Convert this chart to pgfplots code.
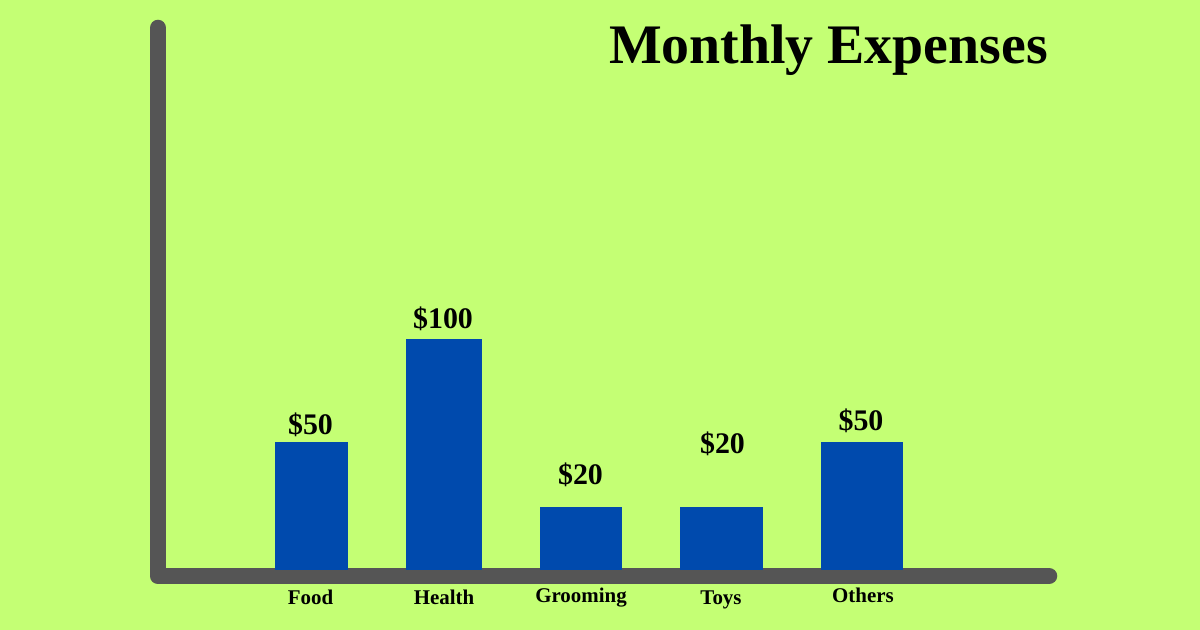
\documentclass[border=0pt]{standalone}
\usepackage{fontspec}
\setmainfont{Liberation Serif}
\usepackage{pgfplots}
\pgfplotsset{compat=1.18}
\definecolor{bggreen}{RGB}{196,255,116}
\definecolor{barblue}{RGB}{0,74,173}
\definecolor{axisgray}{RGB}{85,85,85}
\begin{document}
\begin{tikzpicture}
\begin{axis}[
  width=1200bp, height=630bp, scale only axis,
  xmin=0, xmax=1200, ymin=-60, ymax=570,
  enlargelimits=false,
  axis line style={draw=none},
  xtick=\empty, ytick=\empty,
  axis background/.style={fill=bggreen},
  clip=false,
]
% axis lines (hand drawn)
\addplot[axisgray, line width=16.5bp, line cap=round, line join=round, mark=none]
  coordinates {(158,542) (158,-6) (1049,-6)};
% bars (heights as drawn)
\addplot[ybar, bar shift=0pt, bar width=73, fill=barblue, draw=none] coordinates {(311.7,128)};
\addplot[ybar, bar shift=0pt, bar width=76, fill=barblue, draw=none] coordinates {(444,231)};
\addplot[ybar, bar shift=0pt, bar width=82.5, fill=barblue, draw=none] coordinates {(581.2,63)};
\addplot[ybar, bar shift=0pt, bar width=83, fill=barblue, draw=none] coordinates {(721.5,63)};
\addplot[ybar, bar shift=0pt, bar width=82, fill=barblue, draw=none] coordinates {(861.7,128)};
% value labels
\addplot[draw=none, mark=none, nodes near coords, point meta=explicit symbolic,
  every node near coord/.style={anchor=base, inner sep=0pt, font=\fontsize{30}{32}\selectfont\bfseries, text=black}]
  coordinates {(310.5,135.5) [\$50] (443,241.5) [\$100] (580.5,85.5) [\$20] (722.5,116.5) [\$20] (861,139.5) [\$50]};
% category labels
\addplot[draw=none, mark=none, nodes near coords, point meta=explicit symbolic,
  every node near coord/.style={anchor=base, inner sep=0pt, font=\fontsize{21}{23}\selectfont\bfseries, text=black}]
  coordinates {(310.5,-35) [Food] (444,-34.5) [Health] (581,-33) [Grooming] (721,-34.5) [Toys] (863,-33) [Others]};
% title
\addplot[draw=none, mark=none, nodes near coords, point meta=explicit symbolic,
  every node near coord/.style={anchor=base, inner sep=0pt, font=\fontsize{56}{60}\selectfont\bfseries, text=black}]
  coordinates {(828.5,506.5) [Monthly Expenses]};
\end{axis}
\end{tikzpicture}
\end{document}
